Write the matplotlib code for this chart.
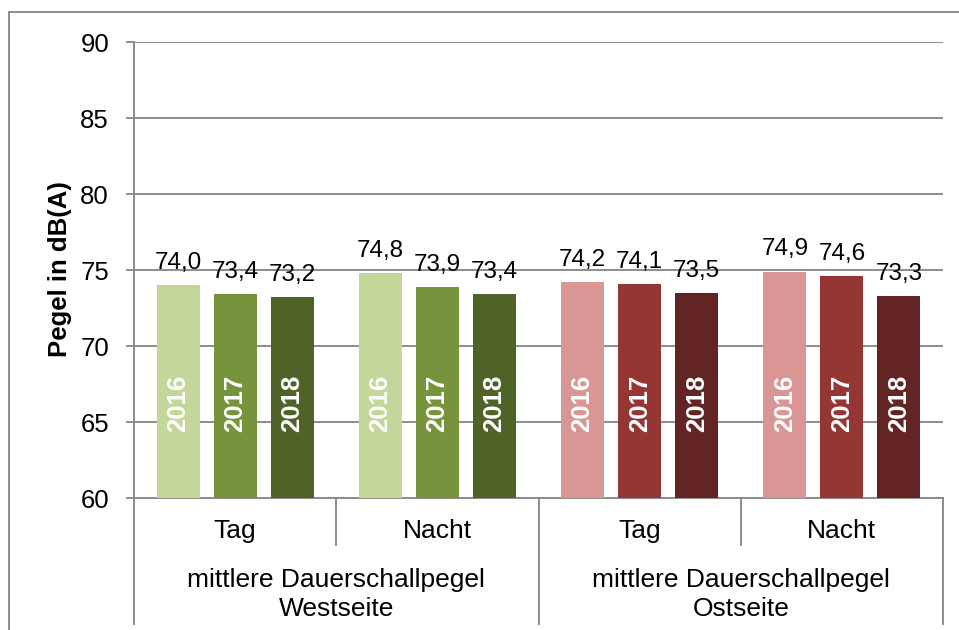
"""Mittlere Dauerschallpegel West-/Ostseite, 2016-2018."""

import matplotlib
matplotlib.use('Agg')
import matplotlib.pyplot as plt
from matplotlib.lines import Line2D
import numpy as np

plt.rcParams['font.family'] = ['Liberation Sans', 'DejaVu Sans']

# Data ----------------------------------------------------------------------
years = ['2016', '2017', '2018']
sub_labels = ['Tag', 'Nacht', 'Tag', 'Nacht']
main_labels = ['mittlere Dauerschallpegel\nWestseite',
               'mittlere Dauerschallpegel\nOstseite']

west_tag = [74.0, 73.4, 73.2]
west_nacht = [74.8, 73.9, 73.4]
ost_tag = [74.2, 74.1, 73.5]
ost_nacht = [74.9, 74.6, 73.3]

groups = [west_tag, west_nacht, ost_tag, ost_nacht]

green = ['#C4D79B', '#77933C', '#4F6228']
red = ['#DA9694', '#963634', '#632523']
group_colors = [green, green, red, red]

grid_c = '#8C8C8C'
W, H = 959, 630


def fx(px):
    return px / W


def fy(py):
    return 1 - py / H


# Figure --------------------------------------------------------------------
fig = plt.figure(figsize=(W / 100, H / 100), dpi=100)
ax = fig.add_axes([fx(134), fy(498), fx(943 - 134), (498 - 42) / H])

bar_w = 0.213
step = 0.282
for gi, (vals, cols) in enumerate(zip(groups, group_colors)):
    xs = gi + 0.5 + step * (np.arange(3) - 1)
    ax.bar(xs, np.array(vals) - 60, bottom=60, width=bar_w, color=cols, zorder=3)
    for x, v, yr in zip(xs, vals, years):
        ax.annotate(f'{v:.1f}'.replace('.', ','), (x, v), xytext=(0, 8),
                    textcoords='offset points', ha='center', va='bottom',
                    fontsize=17.5, zorder=4)
        ax.text(x, 66.2, yr, rotation=90, ha='center', va='center',
                color='white', fontsize=18.5, fontweight='bold', zorder=4)

ax.set_xlim(0, 4)
ax.set_ylim(60, 90)
ax.set_yticks(range(60, 91, 5))
ax.set_xticks([])
ax.yaxis.grid(True, color=grid_c, lw=1.4, zorder=0)
ax.tick_params(axis='y', length=6, width=1.4, color=grid_c, pad=12, labelsize=18.5)
for s in ['top', 'right']:
    ax.spines[s].set_visible(False)
for s in ['left', 'bottom']:
    ax.spines[s].set_color(grid_c)
    ax.spines[s].set_linewidth(1.4)

fig.text(fx(60), fy(269), 'Pegel in dB(A)', rotation=90, ha='center',
         va='center', fontsize=18.5, fontweight='bold')

# Category axis below the plot ---------------------------------------------
x_px = np.linspace(134, 943, 5)
for i, xp in enumerate(x_px):
    bottom = 545 if i in (1, 3) else 624
    fig.add_artist(Line2D([fx(xp), fx(xp)], [fy(498), fy(bottom)],
                          color=grid_c, lw=1.4))

for i, lab in enumerate(sub_labels):
    cx = (x_px[i] + x_px[i + 1]) / 2
    fig.text(fx(cx), fy(538), lab, ha='center', va='baseline', fontsize=19)

for i, lab in enumerate(main_labels):
    cx = (x_px[2 * i] + x_px[2 * i + 2]) / 2
    for k, line in enumerate(lab.split('\n')):
        fig.text(fx(cx), fy(587 + 28.5 * k), line, ha='center',
                 va='baseline', fontsize=19)

# Outer frame (clipped at right and bottom)
fig.add_artist(Line2D([fx(9), fx(9)], [fy(12), fy(H)], color=grid_c, lw=1.4))
fig.add_artist(Line2D([fx(9), 1], [fy(12), fy(12)], color=grid_c, lw=1.4))

fig.savefig('out.png', dpi=100)
